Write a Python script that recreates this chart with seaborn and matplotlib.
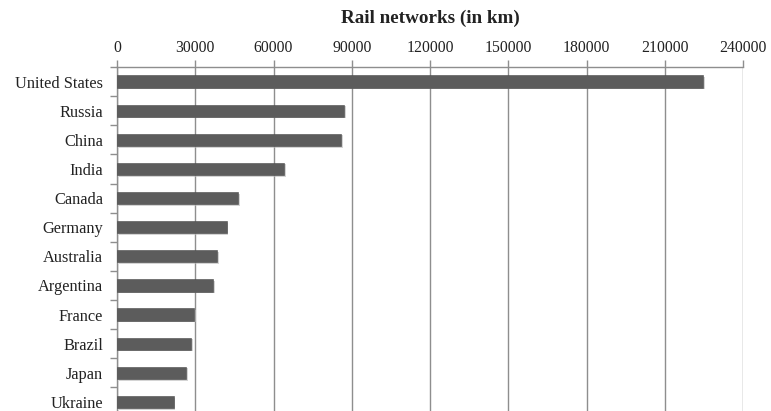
import matplotlib
matplotlib.use("Agg")
import matplotlib.pyplot as plt
import matplotlib.patheffects as pe
import seaborn as sns
import pandas as pd
import numpy as np

countries = ["United States", "Russia", "China", "India", "Canada", "Germany",
             "Australia", "Argentina", "France", "Brazil", "Japan", "Ukraine"]
rail_km = [224792, 87157, 86000, 63974, 46552, 41981,
           38445, 36966, 29640, 28538, 26400, 21684]
x_ticks = [0, 30000, 60000, 90000, 120000, 150000, 180000, 210000, 240000]

df = pd.DataFrame({"country": countries, "km": rail_km})

sns.set_theme(style="white")
plt.rcParams["font.family"] = ["Liberation Serif", "DejaVu Serif"]

fig = plt.figure(figsize=(7.71, 4.11), dpi=100)
ax = fig.add_axes([117 / 771, 0.0, (743 - 117) / 771, 1 - 67 / 411])

sns.barplot(data=df, x="km", y="country", orient="h", color="#5c5c5c",
            width=0.42, saturation=1, ax=ax, zorder=3)
for p in ax.patches:
    p.set_path_effects([pe.SimplePatchShadow(offset=(1.2, -1.2), shadow_rgbFace="#b8b8b8", alpha=0.6),
                        pe.Normal()])
    p.set_edgecolor("#4a4a4a")
    p.set_linewidth(0.4)

ax.set_xlim(0, 240000)
ax.set_ylim(11.31, -0.5)
ax.set_xticks(x_ticks)
ax.set_xticklabels([str(v) for v in x_ticks])
ax.xaxis.tick_top()
ax.xaxis.set_label_position("top")
ax.grid(axis="x", color="#8e8e8e", linewidth=1.0, zorder=0)
ax.set_axisbelow(True)
ax.set_xlabel("")
ax.set_ylabel("")

for s in ["right", "bottom"]:
    ax.spines[s].set_visible(False)
ax.spines["top"].set_color("#8e8e8e")
ax.spines["top"].set_linewidth(1.0)
ax.spines["left"].set_color("#8e8e8e")
ax.spines["left"].set_linewidth(1.0)

ax.tick_params(axis="x", which="major", top=True, bottom=False, direction="out",
               length=5, width=1, color="#8e8e8e", labelsize=11.3, pad=3, labelcolor="#222222")
ax.tick_params(axis="y", which="major", left=False, labelsize=11.8, pad=4, labelcolor="#222222")
ax.set_yticks(np.arange(len(countries)) - 0.5, minor=True)
ax.tick_params(axis="y", which="minor", left=True, length=5, width=1, color="#8e8e8e")

fig.text((117 + 743) / 2 / 771, 1 - 18 / 411, "Rail networks (in km)", ha="center", va="center",
         fontsize=13.8, fontweight="bold", color="#222222")

fig.savefig("out.png", dpi=100)
